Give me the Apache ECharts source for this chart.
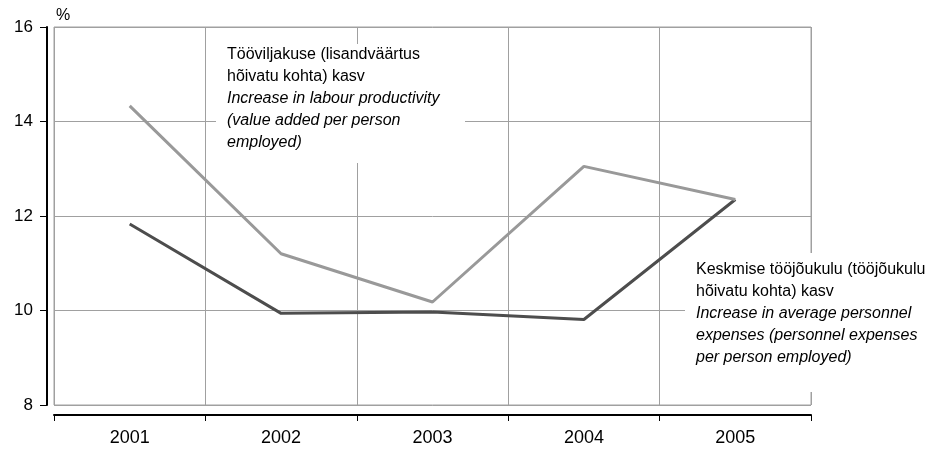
<!DOCTYPE html>
<html style="height: 100%">
<head>
<meta charset="utf-8">
<script src="https://cdn.jsdelivr.net/npm/echarts@6/dist/echarts.min.js"></script>
</head>
<body style="height: 100%; margin: 0; background: #fff">
<div id="container" style="width: 932px; height: 450px"></div>
<script type="text/javascript">
var years = ['2001', '2002', '2003', '2004', '2005'];
var productivity = [14.33, 11.2, 10.18, 13.05, 12.35];
var personnel = [11.83, 9.94, 9.97, 9.81, 12.35];
var yTicks = {min: 8, max: 16, step: 2};

var labelProdEt = 'Tööviljakuse (lisandväärtus\nhõivatu kohta) kasv';
var labelProdEn = 'Increase in labour productivity\n(value added per person\nemployed)';
var labelPersEt = 'Keskmise tööjõukulu (tööjõukulu\nhõivatu kohta) kasv';
var labelPersEn = 'Increase in average personnel\nexpenses (personnel expenses\nper person employed)';

var myChart = echarts.init(document.getElementById('container'));
var font = 'Liberation Sans, Arial, sans-serif';

// white box + two text blocks (estonian plain, english italic)
function note(x, y, w, h, textTop, et, en) {
    return [
        {type: 'rect', z: 10, shape: {x: x, y: y, width: w, height: h}, style: {fill: '#fff'}},
        {type: 'text', z: 11, x: x + 11, y: textTop, style: {
            text: et, fontFamily: font, fontSize: 16, lineHeight: 22,
            fill: '#000', verticalAlign: 'top'
        }},
        {type: 'text', z: 11, x: x + 11, y: textTop + 44, style: {
            text: en, fontFamily: font, fontSize: 16, lineHeight: 22,
            fontStyle: 'italic', fill: '#000', verticalAlign: 'top'
        }}
    ];
}

var option = {
    animation: false,
    grid: {
        left: 54, right: 121, top: 27, bottom: 45,
        show: true, borderColor: '#a0a0a0', borderWidth: 1
    },
    graphic: [
        {type: 'text', x: 56, y: 8, style: {text: '%', fontFamily: font, fontSize: 16, fill: '#000'}}
    ].concat(note(216, 44, 249, 119, 44, labelProdEt, labelProdEn))
     .concat(note(685, 253, 200, 139, 259, labelPersEt, labelPersEn)),
    xAxis: {
        type: 'category',
        data: years,
        boundaryGap: true,
        offset: 10,
        axisLine: {lineStyle: {color: '#000', width: 2}},
        axisTick: {show: true, length: 6, lineStyle: {color: '#000', width: 1}},
        axisLabel: {color: '#000', fontFamily: font, fontSize: 18, margin: 14},
        splitLine: {show: true, lineStyle: {color: '#a0a0a0', width: 1}}
    },
    yAxis: {
        type: 'value',
        min: yTicks.min,
        max: yTicks.max,
        interval: yTicks.step,
        offset: 7,
        axisLine: {show: true, lineStyle: {color: '#000', width: 2}},
        axisTick: {show: true, length: 7, lineStyle: {color: '#000', width: 1}},
        axisLabel: {color: '#000', fontFamily: font, fontSize: 17, margin: 14},
        splitLine: {show: true, lineStyle: {color: '#a0a0a0', width: 1}}
    },
    series: [
        {
            name: 'personnel',
            type: 'line',
            data: personnel,
            symbol: 'none',
            z: 3,
            lineStyle: {color: '#4d4d4d', width: 3}
        },
        {
            name: 'productivity',
            type: 'line',
            data: productivity,
            symbol: 'none',
            z: 4,
            lineStyle: {color: '#999999', width: 3}
        }
    ]
};
myChart.setOption(option);
</script>
</body>
</html>
